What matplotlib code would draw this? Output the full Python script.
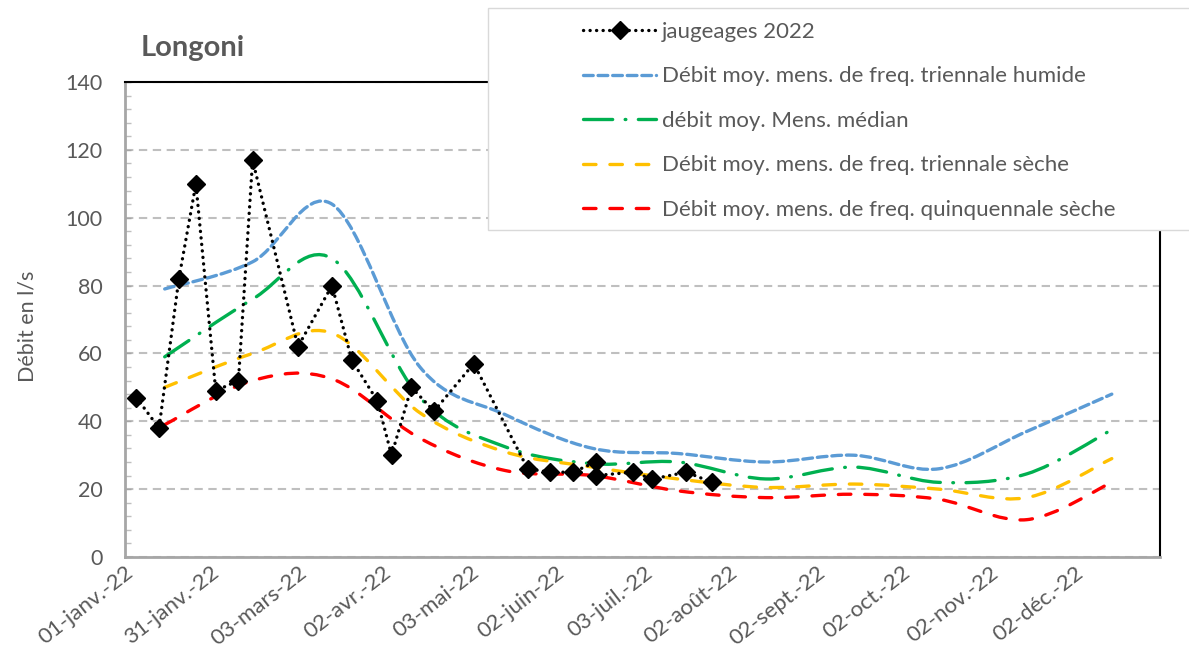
import matplotlib
matplotlib.use('Agg')
import numpy as np
import matplotlib.pyplot as plt
import matplotlib.dates as mdates
from matplotlib.path import Path
from matplotlib.patches import PathPatch, Rectangle
from matplotlib.lines import Line2D
from datetime import date

plt.rcParams['font.family'] = ['Lato', 'DejaVu Sans']
plt.rcParams['lines.scale_dashes'] = False

# jaugeages 2022 (l/s)
jaug_dates = [date(2022, 1, 5), date(2022, 1, 13), date(2022, 1, 20), date(2022, 1, 26),
              date(2022, 2, 2), date(2022, 2, 10), date(2022, 2, 15), date(2022, 3, 3),
              date(2022, 3, 15), date(2022, 3, 22), date(2022, 3, 31), date(2022, 4, 5),
              date(2022, 4, 12), date(2022, 4, 20), date(2022, 5, 4), date(2022, 5, 23),
              date(2022, 5, 31), date(2022, 6, 8), date(2022, 6, 16), date(2022, 6, 16),
              date(2022, 6, 29), date(2022, 7, 6), date(2022, 7, 18), date(2022, 7, 27)]
jaug_values = [47, 38, 82, 110, 49, 52, 117, 62, 80, 58, 46, 30, 50, 43, 57, 26,
               25, 25, 28, 24, 25, 23, 25, 22]

# débits moyens mensuels (placés au 15 de chaque mois)
month_dates = [date(2022, m, 15) for m in range(1, 13)]
humide = [79, 87, 104, 56, 42, 32, 30.5, 28, 30, 26, 37, 48]
median = [59, 76, 88, 47, 32.5, 27.5, 28, 23, 26.5, 22, 24.5, 37.5]
seche3 = [50, 60, 66, 42.5, 31, 26.5, 23, 20.5, 21.5, 20, 17.5, 29]
seche5 = [39, 52, 52.5, 35, 25.5, 24, 19.5, 17.5, 18.5, 17, 11, 22]

tick_dates = [date(2022, 1, 1), date(2022, 1, 31), date(2022, 3, 3), date(2022, 4, 2),
              date(2022, 5, 3), date(2022, 6, 2), date(2022, 7, 3), date(2022, 8, 2),
              date(2022, 9, 2), date(2022, 10, 2), date(2022, 11, 2), date(2022, 12, 2)]
tick_labels = ['01-janv.-22', '31-janv.-22', '03-mars-22', '02-avr.-22', '03-mai-22',
               '02-juin-22', '03-juil.-22', '02-août-22', '02-sept.-22', '02-oct.-22',
               '02-nov.-22', '02-déc.-22']

labels = ['jaugeages 2022',
          'Débit moy. mens. de freq. triennale humide',
          'débit moy. Mens. médian',
          'Débit moy. mens. de freq. triennale sèche',
          'Débit moy. mens. de freq. quinquennale sèche']

grey_txt = '#595959'


def smooth_path(xd, yv):
    # courbe lissée façon Excel (bezier type Catmull-Rom)
    x = mdates.date2num(xd)
    y = np.asarray(yv, dtype=float)
    pts = np.column_stack([x, y])
    ext = np.vstack([pts[0], pts, pts[-1]])
    verts = [pts[0]]
    codes = [Path.MOVETO]
    for i in range(len(pts) - 1):
        p0, p1, p2, p3 = ext[i], ext[i + 1], ext[i + 2], ext[i + 3]
        verts += [p1 + (p2 - p0) / 6, p2 - (p3 - p1) / 6, p2]
        codes += [Path.CURVE4] * 3
    return Path(verts, codes)


fig = plt.figure(figsize=(11.89, 6.57), dpi=100)
ax = fig.add_axes([125 / 1189, 1 - 557 / 657, 1035 / 1189, 475 / 657])

dots = (0, (0.1, 4.6))
styles = [
    (humide, '#5b9bd5', (0, (7, 3.5))),
    (median, '#00b050', (0, (21, 9, 0.5, 9))),
    (seche3, '#ffc000', (0, (9, 10))),
    (seche5, '#ff0000', (0, (9, 10))),
]
handles = [Line2D([], [], color='black', lw=2.4, linestyle=dots,
                  dash_capstyle='round', marker='D', markersize=9,
                  markerfacecolor='black', markeredgecolor='black')]
for vals, col, ls in styles:
    ax.add_patch(PathPatch(smooth_path(month_dates, vals), fill=False, edgecolor=col,
                           lw=2.4, linestyle=ls, capstyle='round', zorder=3))
    handles.append(Line2D([], [], color=col, lw=2.4, linestyle=ls, dash_capstyle='round'))

ax.plot(mdates.date2num(jaug_dates), jaug_values, color='black', lw=2.4,
        linestyle=dots, dash_capstyle='round', marker='D', markersize=9,
        zorder=4)

ax.set_xlim(mdates.date2num(date(2022, 1, 1)), mdates.date2num(date(2023, 1, 1)))
ax.set_ylim(0, 140)
ax.set_yticks(np.arange(0, 141, 20))
ax.set_yticks(np.arange(0, 141, 4), minor=True)
ax.set_xticks(mdates.date2num(tick_dates))
ax.set_xticklabels(tick_labels, rotation=38, ha='right', va='top', rotation_mode='anchor')

ax.tick_params(axis='x', length=0, pad=4, labelsize=16, labelcolor=grey_txt)
ax.tick_params(axis='y', which='major', direction='in', length=4, width=1,
               color='#a6a6a6', pad=16, labelsize=15.5, labelcolor=grey_txt)
ax.tick_params(axis='y', which='minor', direction='in', length=4, width=1, color='#bfbfbf')

ax.yaxis.grid(True, color='#bfbfbf', linestyle=(0, (6, 4)), lw=1.5)
ax.set_axisbelow(True)

for s in ('top', 'right'):
    ax.spines[s].set_color('black')
    ax.spines[s].set_linewidth(1.5)
for s in ('left', 'bottom'):
    ax.spines[s].set_color('#a6a6a6')
    ax.spines[s].set_linewidth(2)

fig.text(141 / 1189, 1 - 56 / 657, 'Longoni', fontsize=21, fontweight='bold',
         color=grey_txt, va='baseline', ha='left')
fig.text(28 / 1189, 1 - 326 / 657, 'Débit en l/s', fontsize=15.5, color=grey_txt,
         rotation=90, va='center', ha='center')

box = Rectangle((488 / 1189, 1 - 230 / 657), 0.6, 222 / 657, transform=fig.transFigure,
                facecolor='white', edgecolor='#d9d9d9', lw=1, zorder=2)
fig.add_artist(box)
fig.legend(handles, labels, loc='upper left', bbox_to_anchor=(583 / 1189, 1 - 22 / 657),
           frameon=False, fontsize=16, handlelength=3.3, handletextpad=0.25,
           labelspacing=1.1, borderpad=0, borderaxespad=0, labelcolor=grey_txt)

fig.savefig('out.png', dpi=100)
